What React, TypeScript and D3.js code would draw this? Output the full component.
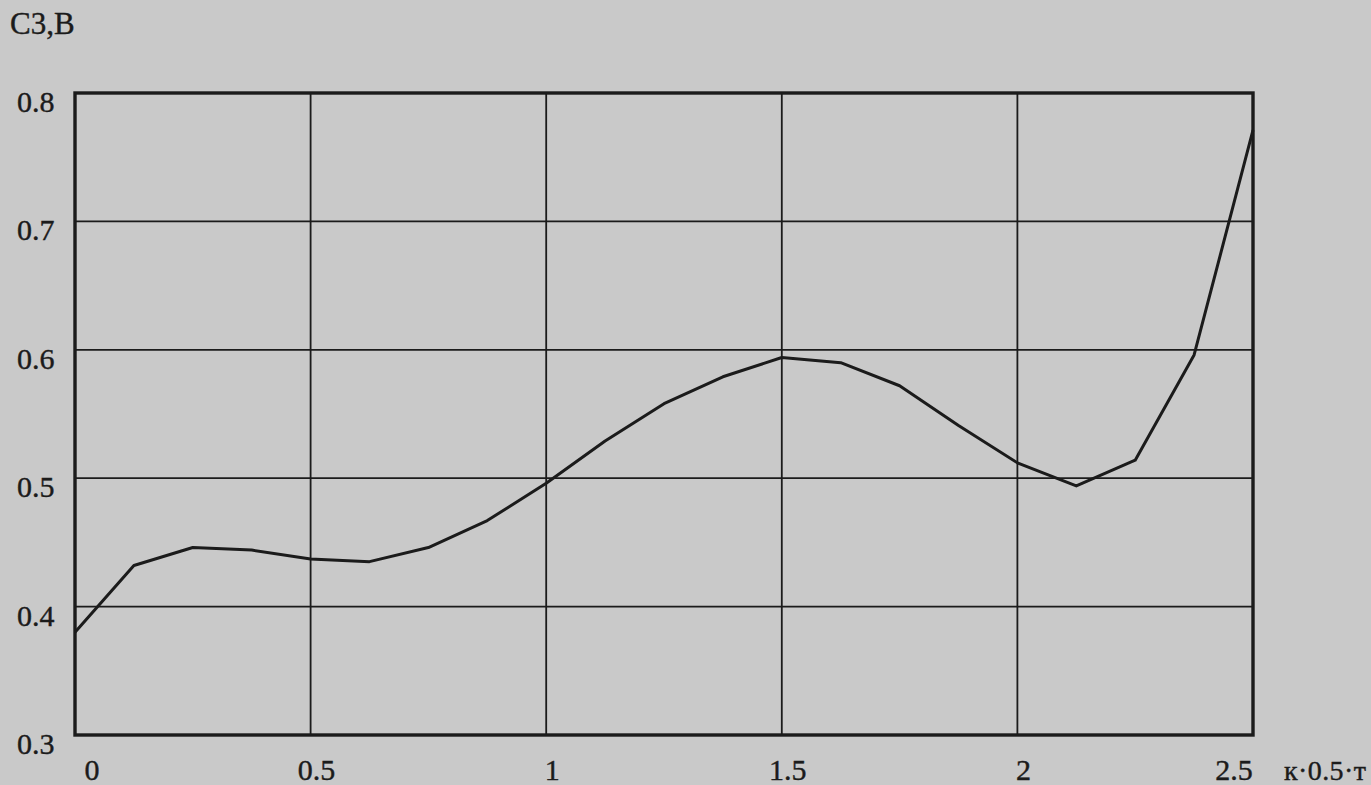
import * as d3 from 'd3';
import React, { useEffect, useRef } from 'react';

// values, step 0.125 along x
const xValues: number[] = [
  0, 0.125, 0.25, 0.375, 0.5, 0.625, 0.75, 0.875, 1, 1.125, 1.25, 1.375, 1.5, 1.625, 1.75, 1.875, 2, 2.125,
  2.25, 2.375, 2.5,
];
const c3Values: number[] = [
  0.38, 0.432, 0.446, 0.444, 0.437, 0.435, 0.446, 0.467, 0.496, 0.529, 0.558, 0.579, 0.594, 0.59, 0.572,
  0.541, 0.512, 0.494, 0.514, 0.596, 0.771,
];
const xTicks: number[] = [0, 0.5, 1, 1.5, 2, 2.5];
const xTickLabels: string[] = ['0', '0.5', '1', '1.5', '2', '2.5'];
const yTicks: number[] = [0.3, 0.4, 0.5, 0.6, 0.7, 0.8];
const yTickLabels: string[] = ['0.3', '0.4', '0.5', '0.6', '0.7', '0.8'];

const width = 1371;
const height = 785;
const margin = { top: 93, right: 118, bottom: 50, left: 75 };
const ink = '#1b1b1b';
const font = '"Liberation Serif", "DejaVu Serif", serif';

const App: React.FC = () => {
  const ref = useRef<SVGSVGElement>(null);

  useEffect(() => {
    if (!ref.current) return;
    const svg = d3.select(ref.current);
    svg.selectAll('*').remove();

    const x = d3
      .scaleLinear()
      .domain([0, 2.5])
      .range([margin.left, width - margin.right]);
    const y = d3
      .scaleLinear()
      .domain([0.3, 0.8])
      .range([height - margin.bottom, margin.top]);

    svg.append('rect').attr('width', width).attr('height', height).attr('fill', '#c9c9c9');

    const grid = svg.append('g').attr('stroke', ink).attr('stroke-width', 1.8);
    grid
      .selectAll('line.v')
      .data(xTicks.slice(1, -1))
      .join('line')
      .attr('class', 'v')
      .attr('x1', (d) => x(d))
      .attr('x2', (d) => x(d))
      .attr('y1', y(0.8))
      .attr('y2', y(0.3));
    grid
      .selectAll('line.h')
      .data(yTicks.slice(1, -1))
      .join('line')
      .attr('class', 'h')
      .attr('x1', x(0))
      .attr('x2', x(2.5))
      .attr('y1', (d) => y(d))
      .attr('y2', (d) => y(d));

    svg
      .append('rect')
      .attr('x', x(0))
      .attr('y', y(0.8))
      .attr('width', x(2.5) - x(0))
      .attr('height', y(0.3) - y(0.8))
      .attr('fill', 'none')
      .attr('stroke', ink)
      .attr('stroke-width', 3.4);

    const line = d3
      .line<number>()
      .x((_, i) => x(xValues[i]))
      .y((d) => y(d));
    svg
      .append('path')
      .datum(c3Values)
      .attr('d', line)
      .attr('fill', 'none')
      .attr('stroke', ink)
      .attr('stroke-width', 3)
      .attr('stroke-linejoin', 'round');

    const labels = svg
      .append('g')
      .attr('font-family', font)
      .attr('font-size', 30)
      .attr('fill', ink)
      .attr('stroke', ink)
      .attr('stroke-width', 0.4);
    labels
      .selectAll('text.y')
      .data(yTicks)
      .join('text')
      .attr('class', 'y')
      .attr('x', 17)
      .attr('y', (d) => y(d) + 19)
      .text((_, i) => yTickLabels[i]);
    labels
      .selectAll('text.x')
      .data(xTicks)
      .join('text')
      .attr('class', 'x')
      .attr('x', (d, i) => (i === 0 ? x(d) + 17 : i === xTicks.length - 1 ? x(d) - 19 : x(d) + 6))
      .attr('y', 780)
      .attr('text-anchor', 'middle')
      .text((_, i) => xTickLabels[i]);

    labels.append('text').attr('x', 10).attr('y', 34).attr('font-size', 31).text('С3,В');
    labels
      .append('text')
      .attr('x', 1284)
      .attr('y', 780)
      .attr('font-size', 28)
      .attr('textLength', 82)
      .text('к·0.5·т');
  }, []);

  return (
    <svg
      ref={ref}
      width={width}
      height={height}
      viewBox={`0 0 ${width} ${height}`}
      style={{ position: 'absolute', left: 0, top: 0 }}
    ></svg>
  );
};

export default App;
